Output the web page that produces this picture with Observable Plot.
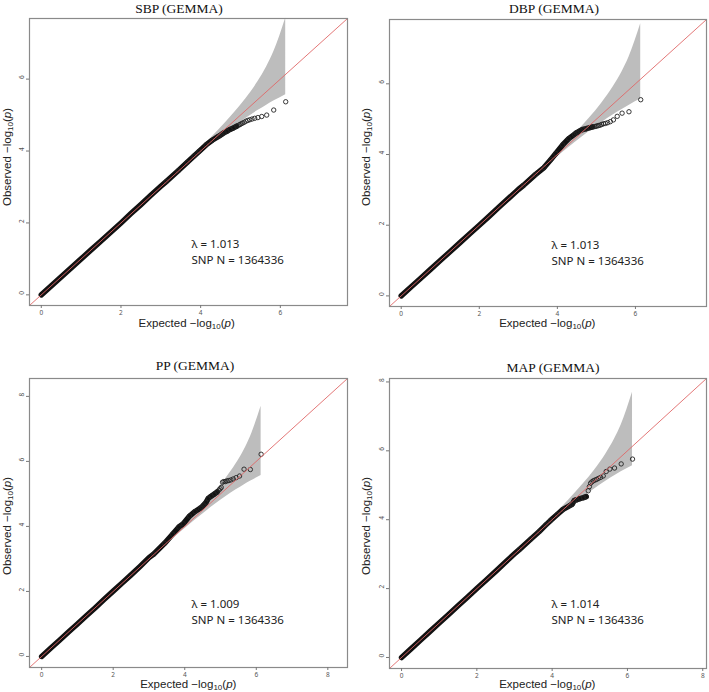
<!DOCTYPE html>
<html><head><meta charset="utf-8">
<script src="https://cdn.jsdelivr.net/npm/d3@7"></script>
<script src="https://cdn.jsdelivr.net/npm/@observablehq/plot@0.6"></script>
<style>
body{margin:0;background:#fff;}
#root{position:relative;width:709px;height:692px;overflow:hidden;background:#fff;font-family:"Liberation Sans",Arial,sans-serif;}
.title{position:absolute;font-family:"Liberation Serif","Times New Roman",serif;font-size:13.5px;color:#111;transform:translate(-50%,-50%);white-space:nowrap;}
.xlab,.ylab{position:absolute;font-size:11.5px;color:#222;white-space:nowrap;line-height:1;}
.xlab{transform:translate(-50%,-50%);}
.ylab{transform:translate(-50%,-50%) rotate(-90deg);}
sub{font-size:8px;vertical-align:-2px;line-height:0;}
</style></head>
<body><div id="root"></div>
<script>
// ---------- data ----------
const titles = ["SBP (GEMMA)", "DBP (GEMMA)", "PP (GEMMA)", "MAP (GEMMA)"];
const lambdas = ["1.013", "1.013", "1.009", "1.014"];
const snpN = "1364336";
const ticks6 = [0, 2, 4, 6];
const ticks8 = [0, 2, 4, 6, 8];

// expected -log10(p), bulk of the distribution
const expBulk = [0, 0.25, 0.5, 0.75, 1.0, 1.25, 1.5, 1.75, 2.0, 2.25, 2.5, 2.75, 3.0];
// expected -log10(p), upper tail (ranks 1000 ... 1)
const expTail = [3.135, 3.436, 3.658, 3.834, 3.959, 4.135, 4.290, 4.436, 4.482, 4.533, 4.591, 4.658, 4.737, 4.834, 4.905, 4.959, 4.989, 5.021, 5.056, 5.094, 5.135, 5.181, 5.232, 5.290, 5.357, 5.436, 5.533, 5.658, 5.834, 6.135];

// observed -log10(p)
const sbpBulk = [0, 0.25, 0.5, 0.75, 1.0, 1.25, 1.5, 1.75, 2.0, 2.26, 2.51, 2.77, 3.02];
const sbpTail = [3.15, 3.45, 3.68, 3.86, 3.99, 4.17, 4.30, 4.40, 4.43, 4.47, 4.51, 4.55, 4.60, 4.65, 4.69, 4.72, 4.74, 4.76, 4.78, 4.80, 4.83, 4.85, 4.87, 4.89, 4.91, 4.93, 4.96, 5.00, 5.14, 5.37];
const dbpBulk = [0, 0.25, 0.5, 0.75, 1.0, 1.25, 1.5, 1.75, 2.0, 2.25, 2.51, 2.76, 3.01];
const dbpTail = [3.13, 3.43, 3.63, 3.86, 4.03, 4.27, 4.45, 4.57, 4.61, 4.64, 4.68, 4.71, 4.73, 4.76, 4.78, 4.79, 4.80, 4.81, 4.82, 4.83, 4.85, 4.87, 4.88, 4.90, 4.93, 4.98, 5.08, 5.17, 5.21, 5.55];
const ppBulk = [0, 0.25, 0.5, 0.75, 1.0, 1.25, 1.5, 1.76, 2.01, 2.26, 2.51, 2.77, 3.04];
const ppTail = [3.15, 3.48, 3.76, 3.98, 4.08, 4.32, 4.46, 4.56, 4.60, 4.66, 4.73, 4.86, 4.93, 5.00, 5.06, 5.12, 5.16, 5.20, 5.36, 5.38, 5.38, 5.40, 5.41, 5.43, 5.46, 5.50, 5.55, 5.76, 5.75, 6.22];
const mapBulk = [0, 0.25, 0.5, 0.75, 1.0, 1.25, 1.5, 1.75, 2.0, 2.25, 2.5, 2.76, 3.01];
const mapTail = [3.14, 3.44, 3.66, 3.85, 3.98, 4.15, 4.30, 4.39, 4.42, 4.45, 4.56, 4.58, 4.61, 4.64, 4.67, 4.84, 4.96, 5.06, 5.10, 5.13, 5.15, 5.17, 5.20, 5.23, 5.27, 5.40, 5.47, 5.50, 5.62, 5.76];

// 95% confidence band
const bandExp   = [3.135, 3.436, 3.834, 4.135, 4.436, 4.834, 5.135, 5.436, 5.658, 5.834, 6.135];
const bandUpper = [3.163, 3.476, 3.896, 4.225, 4.566, 5.048, 5.454, 5.925, 6.344, 6.751, 7.70];
const bandLower = [3.109, 3.399, 3.776, 4.054, 4.324, 4.663, 4.902, 5.125, 5.276, 5.389, 5.568];

// reference line y = x ends
const diagEnds = [-1, 10];

// ---------- layout ----------
const panels = [
  {title: titles[0], lam: lambdas[0], bulk: sbpBulk, tail: sbpTail, ticks: ticks6,
   left: 0, top: 0, width: 354, height: 346, mL: 29, mR: 7, mT: 18, mB: 41, dom: [-0.296, 7.686],
   tx: 179, ty: 8.5, xl: [186.7, 324.3], yl: [8.3, 156.7]},
  {title: titles[1], lam: lambdas[1], bulk: dbpBulk, tail: dbpTail, ticks: ticks6,
   left: 354, top: 0, width: 355, height: 346, mL: 35, mR: 3, mT: 19, mB: 40, dom: [-0.30, 7.82],
   tx: 554, ty: 8.5, xl: [547.3, 324.3], yl: [367.3, 156.7]},
  {title: titles[2], lam: lambdas[2], bulk: ppBulk, tail: ppTail, ticks: ticks8,
   left: 0, top: 346, width: 354, height: 346, mL: 29, mR: 7, mT: 32, mB: 25, dom: [-0.34, 8.55],
   tx: 195, ty: 366, xl: [188.3, 685], yl: [8.3, 526]},
  {title: titles[3], lam: lambdas[3], bulk: mapBulk, tail: mapTail, ticks: ticks8,
   left: 354, top: 346, width: 355, height: 346, mL: 35, mR: 3, mT: 32, mB: 24, dom: [-0.32, 8.1],
   tx: 553, ty: 367.5, xl: [547.3, 685], yl: [367.3, 526]}
];

const root = document.getElementById("root");
const labelHTML = (w) => `${w} &minus;log<sub>10</sub>(<i>p</i>)`;

const band = bandExp.map((e, i) => ({e, lo: bandLower[i], hi: bandUpper[i]}));
const diag = diagEnds.map(v => ({v}));

for (const p of panels) {
  const bulkRows = expBulk.map((e, i) => ({e, o: p.bulk[i]}));
  const tailRows = expTail.map((e, i) => ({e, o: p.tail[i]}));
  const lineRows = bulkRows.concat(tailRows.filter(d => d.e <= 4.91));
  const note = {fontSize: 11.5, fill: "#222", textAnchor: "start", frameAnchor: "top-left", dx: 162};

  const chart = Plot.plot({
    width: p.width, height: p.height,
    marginLeft: p.mL, marginRight: p.mR, marginTop: p.mT, marginBottom: p.mB,
    x: {domain: p.dom},
    y: {domain: p.dom},
    style: {background: "transparent", overflow: "visible"},
    marks: [
      Plot.areaY(band, {x: "e", y1: "lo", y2: "hi", fill: "#bdbdbd", curve: "monotone-x"}),
      Plot.line(lineRows, {x: "e", y: "o", stroke: "#111", strokeWidth: 5.5, strokeLinecap: "round", strokeLinejoin: "round"}),
      Plot.dot(tailRows, {x: "e", y: "o", r: 2.2, stroke: "#222", strokeWidth: 0.9, fill: "none"}),
      Plot.line(diag, {x: "v", y: "v", stroke: "#e06868", strokeWidth: 0.9, clip: true}),
      Plot.frame({stroke: "#8a8a8a", strokeWidth: 1.2}),
      Plot.axisX(p.ticks, {tickSize: 3, tickFormat: () => "", stroke: "#777", label: null}),
      Plot.axisY(p.ticks, {tickSize: 3, tickFormat: () => "", stroke: "#777", label: null}),
      Plot.text(p.ticks, {x: d => d, frameAnchor: "bottom", dy: 9, text: d => String(d), fontSize: 6.5, fill: "#555"}),
      Plot.text(p.ticks, {y: d => d, frameAnchor: "left", dx: -7.5, rotate: -90, text: d => String(d), fontSize: 6.5, fill: "#555"}),
      Plot.text([`\u03bb = ${p.lam}`], {...note, text: d => d, dy: 221}),
      Plot.text([`SNP N = ${snpN}`], {...note, text: d => d, dy: 237})
    ]
  });
  chart.style.position = "absolute";
  chart.style.left = p.left + "px";
  chart.style.top = p.top + "px";
  root.appendChild(chart);

  const t = document.createElement("div");
  t.className = "title"; t.textContent = p.title;
  t.style.left = p.tx + "px"; t.style.top = p.ty + "px";
  root.appendChild(t);

  const xl = document.createElement("div");
  xl.className = "xlab"; xl.innerHTML = labelHTML("Expected");
  xl.style.left = p.xl[0] + "px"; xl.style.top = p.xl[1] + "px";
  root.appendChild(xl);

  const yl = document.createElement("div");
  yl.className = "ylab"; yl.innerHTML = labelHTML("Observed");
  yl.style.left = p.yl[0] + "px"; yl.style.top = p.yl[1] + "px";
  root.appendChild(yl);
}
</script>
</body></html>
